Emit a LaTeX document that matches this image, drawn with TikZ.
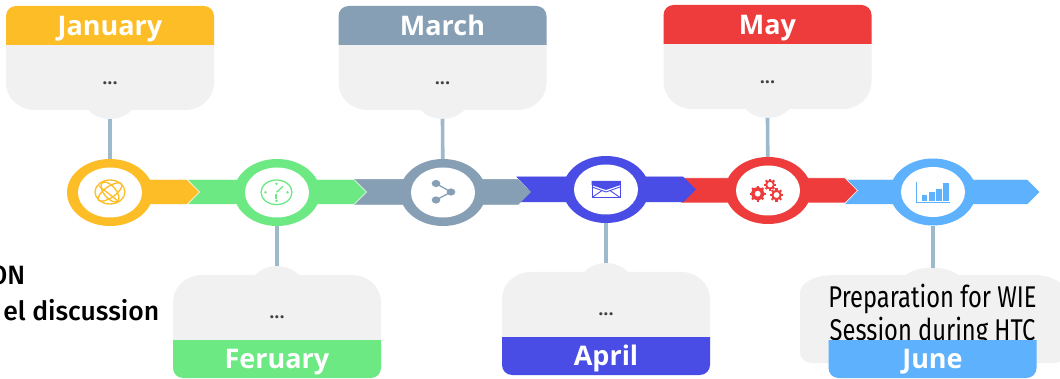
\documentclass[tikz,border=0pt]{standalone}
\usepackage{fontspec}
\setmainfont{Open Sans}
\newfontfamily\condfont[FakeStretch=0.79]{Fira Sans}
\newfontfamily\sidefont{Fira Sans Medium}
\usetikzlibrary{shapes.geometric}
\definecolor{cjan}{HTML}{FDBD26}
\definecolor{cfeb}{HTML}{6CE983}
\definecolor{cmar}{HTML}{879FB5}
\definecolor{capr}{HTML}{4A4CE6}
\definecolor{cmay}{HTML}{EE3B3C}
\definecolor{cjun}{HTML}{5EB1FC}
\definecolor{cstem}{HTML}{9EB8CC}
\definecolor{ccard}{HTML}{F1F1F1}
\definecolor{cdots}{HTML}{404040}
\tikzset{
  ringout/.style={ellipse,inner sep=0pt,minimum width=86pt,minimum height=67pt,fill=#1},
  ringin/.style={ellipse,inner sep=0pt,minimum width=64pt,minimum height=50pt,fill=white},
  band/.style={fill=#1,draw=white,line width=0.5pt,line join=miter},
  bandplain/.style={fill=#1,draw=#1,line width=0.5pt,line join=miter},
  stem/.style={draw=cstem,line width=3.6pt},
  cardfill/.style={fill=ccard},
  headlabel/.style={text=white,font=\fontsize{27}{27}\selectfont\bfseries,inner sep=0pt,anchor=base},
  dotlabel/.style={text=cdots,font=\fontsize{18}{18}\selectfont\bfseries,inner sep=0pt,anchor=base},
  sidelabel/.style={anchor=base east,inner sep=0pt,font=\sidefont\fontsize{26.5}{26.5}\selectfont},
  junelabel/.style={anchor=base,inner sep=0pt,font=\condfont\fontsize{30}{30}\selectfont},
  icon/.style={draw=#1,line width=1.3pt,fill=none},
  iconfill/.style={fill=#1,draw=none},
}
% name, cx, top, colour, label
\newcommand{\cardup}[5]{%
  \fill[cardfill] (#2-104,#3+30) -- (#2-104,#3+77) .. controls (#2-104,#3+92) and (#2-91,#3+104) .. (#2-75,#3+104)
     -- (#2+75,#3+104) .. controls (#2+91,#3+104) and (#2+104,#3+92) .. (#2+104,#3+77) -- (#2+104,#3+30) -- cycle;
  \fill[cardfill] (#2-22,#3+103.5) .. controls (#2-12,#3+116) and (#2+12,#3+116) .. (#2+22,#3+103.5) -- cycle;
  \fill[#4] (#2-104,#3+39) -- (#2-104,#3+10) .. controls (#2-104,#3+4.5) and (#2-99.5,#3) .. (#2-94,#3)
     -- (#2+94,#3) .. controls (#2+99.5,#3) and (#2+104,#3+4.5) .. (#2+104,#3+10) -- (#2+104,#3+39) -- cycle;
  \node[headlabel] (#1head) at (#2,#3+29.5) {#5};
  \node[dotlabel] (#1dots) at (#2,#3+79) {...};
  \coordinate (#1tip) at (#2,#3+113);
}
\newcommand{\carddown}[5]{%
  \fill[cardfill] (#2-104,#3+75) -- (#2-104,#3+27) .. controls (#2-104,#3+12) and (#2-91,#3) .. (#2-75,#3)
     -- (#2+75,#3) .. controls (#2+91,#3) and (#2+104,#3+12) .. (#2+104,#3+27) -- (#2+104,#3+75) -- cycle;
  \fill[cardfill] (#2-22,#3+0.5) .. controls (#2-12,#3-12) and (#2+12,#3-12) .. (#2+22,#3+0.5) -- cycle;
  \fill[#4] (#2-104,#3+65) -- (#2-104,#3+93) .. controls (#2-104,#3+98.5) and (#2-99.5,#3+103) .. (#2-94,#3+103)
     -- (#2+94,#3+103) .. controls (#2+99.5,#3+103) and (#2+104,#3+98.5) .. (#2+104,#3+93) -- (#2+104,#3+65) -- cycle;
  \node[headlabel] (#1head) at (#2,#3+93) {#5};
  \node[dotlabel] (#1dots) at (#2,#3+43.5) {...};
  \coordinate (#1tip) at (#2,#3-9);
}
% style, left, right straight end, centre y
\newcommand{\bandshape}[4]{%
  \draw[#1] (#2,#4-12.5) -- (#3,#4-12.5) -- (#3+12.5,#4) -- (#3,#4+12.5) -- (#2,#4+12.5) -- (#2+12,#4) -- cycle;
}
% centre x, y, ring radius, ring width, tooth length, colour
\newcommand{\gearicon}[6]{%
  \draw[#6,line width=#4pt] (#1,#2) circle (#3);
  \foreach \a in {0,45,...,315}
    \draw[#6,line width=2.1pt] (#1,#2) ++(\a:#3) -- ++(\a:#5);
}
\begin{document}
\begin{tikzpicture}[x=1pt,y=-1pt]
\clip (0,0) rectangle (1060,379);
\fill[white] (0,0) rectangle (1060,379);

% side text
\node[sidelabel] (sideA) at (25.5,285) {ON};
\node[sidelabel] (sideB) at (159.5,320) {el discussion};

% bands, last first so that each tip lies over the next tail
\bandshape{band=cjun}{844}{1027.5}{192}
\bandshape{band=cmay}{680}{845}{190.5}
\bandshape{bandplain=capr}{517}{683}{189.5}
\bandshape{bandplain=cmar}{354}{518}{192}
\bandshape{band=cfeb}{187}{354}{192}
\draw[band=cjan] (110,179.5) -- (187,179.5) -- (199.5,192) -- (187,204.5) -- (110,204.5) -- cycle;

% rings
\node[ringout=cjan] (jan) at (110,192.5) {};
\node[ringin] (janin) at (110,192.5) {};
\node[ringout=cfeb] (feb) at (277,192.5) {};
\node[ringin] (febin) at (277,192.5) {};
\node[ringout=cmar] (mar) at (443,192.5) {};
\node[ringin] (marin) at (443,192.5) {};
\node[ringout=capr] (apr) at (606,189.5) {};
\node[ringin] (aprin) at (606,189.5) {};
\node[ringout=cmay] (may) at (768,190.5) {};
\node[ringin] (mayin) at (768,190.5) {};
\node[ringout=cjun] (jun) at (933,192) {};
\node[ringin] (junin) at (933,192) {};

% cards
\cardup{cja}{110}{6}{cjan}{January}
\cardup{cma}{442.5}{6}{cmar}{March}
\cardup{cmy}{767.5}{5}{cmay}{May}
\carddown{cfe}{277}{275}{cfeb}{Feruary}
\carddown{cap}{606}{272}{capr}{April}

% June card: body, text, then header over the text
\fill[cardfill] (800,353) -- (800,293) .. controls (800,283) and (815,275) .. (833,275)
   -- (1033,275) .. controls (1051,275) and (1066,283) .. (1066,293)
   -- (1066,353) .. controls (1066,359) and (1060,363) .. (1054,363)
   -- (812,363) .. controls (806,363) and (800,359) .. (800,353) -- cycle;
\fill[cardfill] (905,275.5) .. controls (918,265) and (946,265) .. (959,275.5) -- cycle;
\coordinate (cjutip) at (933,268);
\node[junelabel] (junA) at (932.5,307.5) {Preparation for WIE};
\node[junelabel] (junB) at (932.5,341) {Session during HTC};
\fill[cjun] (828.5,340) -- (828.5,368) .. controls (828.5,373.5) and (833,378) .. (838.5,378)
   -- (1026.5,378) .. controls (1032,378) and (1036.5,373.5) .. (1036.5,368) -- (1036.5,340) -- cycle;
\node[headlabel] (cjuhead) at (932.5,368) {June};

% connectors
\draw[stem] (cjatip) -- (jan);
\draw[stem] (cmatip) -- (mar);
\draw[stem] (cmytip) -- (may);
\draw[stem] (cfetip) -- (feb);
\draw[stem] (captip) -- (apr);
\draw[stem] (cjutip) -- (jun);

% icon: globe
\begin{scope}[shift={(110,192)}]
  \draw[icon=cjan] (0,0) ellipse (15 and 12);
  \draw[icon=cjan,rotate=35] (0,0) ellipse (14 and 5.5);
  \draw[icon=cjan,rotate=-50] (0,0) ellipse (12 and 6);
  \draw[icon=cjan] (-11,-6) -- (8,9);
\end{scope}
% icon: clock
\begin{scope}[shift={(276.5,192.3)}]
  \draw[icon=cfeb] (0,0) ellipse (15.5 and 12.3);
  \draw[icon=cfeb] (0,0) -- (6.5,-6);
  \draw[icon=cfeb] (-0.5,2) -- (-0.5,7);
  \foreach \p in {(0,-8.5),(0,8.5),(-11,0),(11,0)} \fill[cfeb] \p circle (1.4);
\end{scope}
% icon: share
\begin{scope}[shift={(443,192)}]
  \draw[icon=cmar] (-7,-8.5) -- (8,0) -- (-7,8);
  \fill[iconfill=cmar] (-7,-8.5) ellipse (4.3 and 3.6);
  \fill[iconfill=cmar] (-7,8) ellipse (4.3 and 3.6);
  \fill[iconfill=cmar] (8,0) ellipse (4.3 and 3.6);
\end{scope}
% icon: envelope
\begin{scope}[shift={(606,189.5)}]
  \draw[capr,line width=1pt] (-14,-8) rectangle (14,8);
  \fill[capr] (-14.5,-8.5) -- (14.5,-8.5) -- (14.5,-4.5) -- (0,0.5) -- (-14.5,-4.5) -- cycle;
  \draw[capr,line width=0.9pt] (-14,-2.5) -- (0,2.5) -- (14,-2.5);
  \draw[capr,line width=0.9pt] (-14,8) -- (-4,1);
  \draw[capr,line width=0.9pt] (14,8) -- (4,1);
\end{scope}
% icon: gears
\gearicon{757.7}{193.7}{5}{3.6}{3}{cmay}
\gearicon{770}{184.7}{3.8}{1.8}{2.2}{cmay}
\gearicon{776.5}{195}{4.2}{2.1}{2.6}{cmay}
% icon: bars
\begin{scope}[shift={(933,192)}]
  \draw[cjun,line width=0.7pt] (-16.5,-10) -- (-16.5,10.5) -- (17,10.5);
  \fill[cjun] (-11,3) rectangle (-6,9);
  \fill[cjun] (-4.5,0) rectangle (1.5,9);
  \fill[cjun] (3,-3) rectangle (8.5,9);
  \fill[cjun] (10,-9) rectangle (16,9);
\end{scope}
\end{tikzpicture}
\end{document}
